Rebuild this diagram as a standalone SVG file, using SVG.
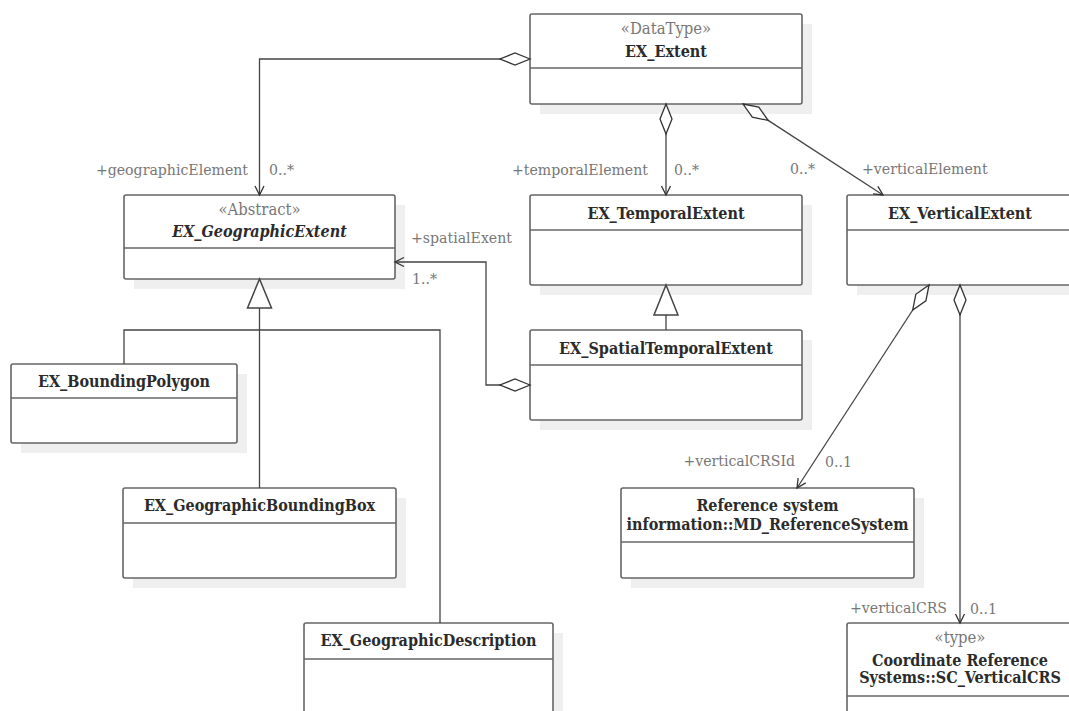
<svg xmlns="http://www.w3.org/2000/svg" width="1069" height="711" viewBox="0 0 1069 711">
<style>
.shadow{fill:#efefef}
.box{fill:#fff;stroke:#666;stroke-width:1.6}
.div{stroke:#666;stroke-width:1.6}
text{font-family:"DejaVu Serif","Liberation Serif",serif;font-stretch:condensed}
.name{font-weight:bold;font-size:16px;fill:#2b2b2b;text-anchor:middle}
.ital{font-style:italic}
.stereo{font-size:16.5px;fill:#777;text-anchor:middle}
.lbl{font-size:15.7px;fill:#777}
.end{text-anchor:end}
.conn{stroke:#444;stroke-width:1.3;fill:none}
.gen{stroke:#444;stroke-width:1.5;fill:#fff}
.dmd{fill:#fff;stroke:#333;stroke-width:1.3;stroke-linejoin:miter}
</style>
<defs>
<marker id="arr" markerUnits="userSpaceOnUse" viewBox="-12 -7 14 14" markerWidth="14" markerHeight="14" refX="0" refY="0" orient="auto" overflow="visible">
<path d="M-9,-4.5 L0,0 L-9,4.5" fill="none" stroke="#333" stroke-width="1.3"/>
</marker>
</defs>

<g id="EX_Extent">
<rect class="shadow" x="540" y="24" width="272" height="90"/>
<rect class="box" x="530" y="14" width="272" height="90" rx="2"/>
<line class="div" x1="530" y1="68" x2="802" y2="68"/>
<text class="stereo" x="666" y="34">«DataType»</text>
<text class="name" x="666" y="57">EX_Extent</text>
</g>

<g id="EX_GeographicExtent">
<rect class="shadow" x="134" y="205" width="271" height="84"/>
<rect class="box" x="124" y="195" width="271" height="84" rx="2"/>
<line class="div" x1="124" y1="248" x2="395" y2="248"/>
<text class="stereo" x="259.5" y="215">«Abstract»</text>
<text class="name ital" x="259.5" y="237">EX_GeographicExtent</text>
</g>

<g id="EX_TemporalExtent">
<rect class="shadow" x="540" y="205" width="272" height="90"/>
<rect class="box" x="530" y="195" width="272" height="90" rx="2"/>
<line class="div" x1="530" y1="230" x2="802" y2="230"/>
<text class="name" x="666" y="219">EX_TemporalExtent</text>
</g>

<g id="EX_SpatialTemporalExtent">
<rect class="shadow" x="540" y="340" width="272" height="90"/>
<rect class="box" x="530" y="330" width="272" height="90" rx="2"/>
<line class="div" x1="530" y1="365" x2="802" y2="365"/>
<text class="name" x="666" y="354">EX_SpatialTemporalExtent</text>
</g>

<g id="EX_VerticalExtent">
<rect class="shadow" x="857" y="205" width="226" height="90"/>
<rect class="box" x="847" y="195" width="226" height="90" rx="2"/>
<line class="div" x1="847" y1="230" x2="1073" y2="230"/>
<text class="name" x="960" y="219">EX_VerticalExtent</text>
</g>

<g id="EX_BoundingPolygon">
<rect class="shadow" x="21" y="374" width="226" height="79"/>
<rect class="box" x="11" y="364" width="226" height="79" rx="2"/>
<line class="div" x1="11" y1="398" x2="237" y2="398"/>
<text class="name" x="124" y="387">EX_BoundingPolygon</text>
</g>

<g id="EX_GeographicBoundingBox">
<rect class="shadow" x="133" y="498" width="273" height="90"/>
<rect class="box" x="123" y="488" width="273" height="90" rx="2"/>
<line class="div" x1="123" y1="523" x2="396" y2="523"/>
<text class="name" x="259.5" y="511">EX_GeographicBoundingBox</text>
</g>

<g id="EX_GeographicDescription">
<rect class="shadow" x="314" y="633" width="249" height="110"/>
<rect class="box" x="304" y="623" width="249" height="110" rx="2"/>
<line class="div" x1="304" y1="659" x2="553" y2="659"/>
<text class="name" x="428.5" y="646">EX_GeographicDescription</text>
</g>

<g id="MD_ReferenceSystem">
<rect class="shadow" x="631" y="498" width="293" height="90"/>
<rect class="box" x="621" y="488" width="293" height="90" rx="2"/>
<line class="div" x1="621" y1="542" x2="914" y2="542"/>
<text class="name" x="767.5" y="511">Reference system</text>
<text class="name" x="767.5" y="530">information::MD_ReferenceSystem</text>
</g>

<g id="SC_VerticalCRS">
<rect class="shadow" x="857" y="633" width="226" height="110"/>
<rect class="box" x="847" y="623" width="226" height="110" rx="2"/>
<line class="div" x1="847" y1="696" x2="1073" y2="696"/>
<text class="stereo" x="960" y="643">«type»</text>
<text class="name" x="960" y="666">Coordinate Reference</text>
<text class="name" x="960" y="683">Systems::SC_VerticalCRS</text>
</g>

<g id="connectors">
<path class="conn" d="M530,59 L259.5,59 L259.5,195" marker-end="url(#arr)"/>
<path class="conn" d="M666,104 L666,195" marker-end="url(#arr)"/>
<path class="conn" d="M743,104 L883,195" marker-end="url(#arr)"/>
<path class="conn" d="M530,385 L486,385 L486,262 L395,262" marker-end="url(#arr)"/>
<path class="conn" d="M929,285 L797,488" marker-end="url(#arr)"/>
<path class="conn" d="M960,285 L960,623" marker-end="url(#arr)"/>
<polygon class="dmd" points="530,59 515,53 500,59 515,65"/>
<polygon class="dmd" points="666,104 672,119 666,134 660,119"/>
<polygon class="dmd" points="743,104 752.3,117.2 768.1,120.4 758.8,107.2"/>
<polygon class="dmd" points="530,385 515,379 500,385 515,391"/>
<polygon class="dmd" points="929,285 925.9,300.8 912.7,310.1 915.8,294.3"/>
<polygon class="dmd" points="960,285 966,300 960,315 954,300"/>
<path class="conn" d="M666,315 L666,330"/>
<polygon class="gen" points="666,285 654,315 678,315"/>
<path class="conn" d="M259.5,308 L259.5,488 M124,364 L124,330 L440,330 L440,623"/>
<polygon class="gen" points="259.5,279 247.5,308 271.5,308"/>
<text class="lbl end" x="248" y="175">+geographicElement</text>
<text class="lbl" x="269" y="175">0..*</text>
<text class="lbl end" x="648" y="175">+temporalElement</text>
<text class="lbl" x="674" y="175">0..*</text>
<text class="lbl" x="790" y="174">0..*</text>
<text class="lbl" x="862" y="174">+verticalElement</text>
<text class="lbl" x="411" y="243">+spatialExent</text>
<text class="lbl" x="412" y="284">1..*</text>
<text class="lbl end" x="795" y="466">+verticalCRSId</text>
<text class="lbl" x="825" y="467">0..1</text>
<text class="lbl end" x="947" y="613">+verticalCRS</text>
<text class="lbl" x="970" y="614">0..1</text>
</g>
</svg>
